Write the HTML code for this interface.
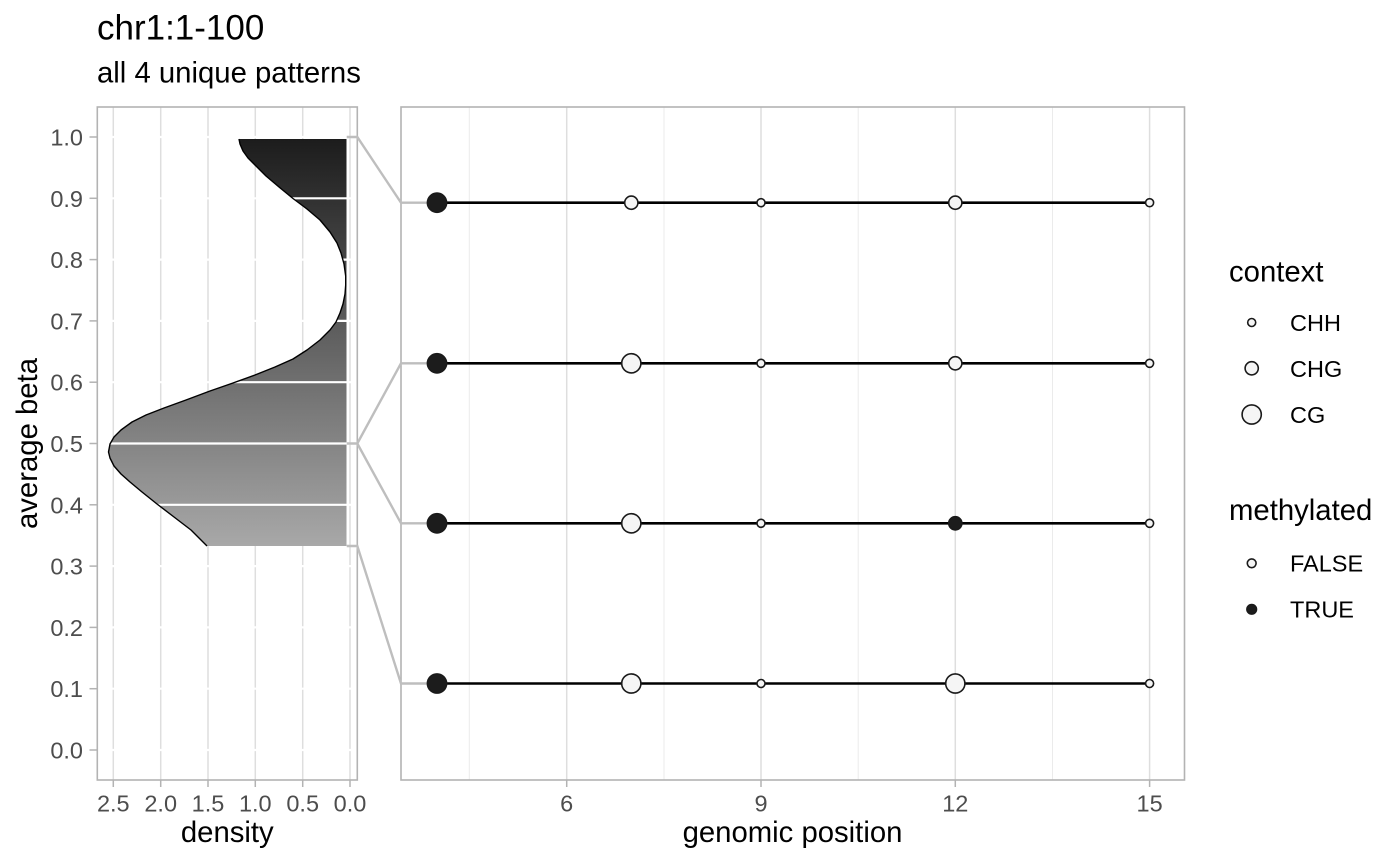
<!DOCTYPE html>
<html>
<head>
<meta charset="utf-8">
<style>
  html, body { margin: 0; padding: 0; background: #ffffff; }
  svg { display: block; }
  text { font-family: "Liberation Sans", Arial, Helvetica, sans-serif; }
</style>
</head>
<body>
<svg width="1400" height="866" viewBox="0 0 1400 866" xmlns="http://www.w3.org/2000/svg">
  <defs>
    <linearGradient id="dg" gradientUnits="userSpaceOnUse" x1="0" y1="139" x2="0" y2="546">
      <stop offset="0" stop-color="#1c1c1c"/>
      <stop offset="1" stop-color="#a8a8a8"/>
    </linearGradient>
  </defs>
  <rect x="0" y="0" width="1400" height="866" fill="#ffffff"/>

  <!-- Title -->
  <text x="97" y="39.5" font-size="35" fill="#000">chr1:1-100</text>
  <text x="97" y="82.5" font-size="29.3" fill="#000">all 4 unique patterns</text>

  <!-- LEFT PANEL -->
  <g stroke="#dedede" stroke-width="1.5">
    <line x1="113.3" y1="107" x2="113.3" y2="780"/>
    <line x1="160.7" y1="107" x2="160.7" y2="780"/>
    <line x1="208" y1="107" x2="208" y2="780"/>
    <line x1="255.3" y1="107" x2="255.3" y2="780"/>
    <line x1="302.7" y1="107" x2="302.7" y2="780"/>
    <line x1="350" y1="107" x2="350" y2="780"/>
  </g>
  <!-- density fill -->
  <polygon fill="url(#dg)" points="346.5,139 239,139 240,144 243,151 248,158 256,166 266,176 279,187 293,198.5 307,209 320,220 330,232 337,243 341,253 344,264 345.7,276 345.7,285 345,294 343,304 340,313 336,322 330,330 320,340 307,350 293,359 275,367 255,375 233,383 210,391 186,400 164,408 146,415 132,422 121,430 114,437 110,444 108.5,452 110,458 114,466 121,474 130,482 142,492 157,504 174,517 191,530 207,546 346.5,546"/>
  <!-- white horizontal gridlines -->
  <g stroke="#ffffff" stroke-width="2.2">
    <line x1="98" y1="137" x2="356.5" y2="137"/>
    <line x1="98" y1="198.3" x2="356.5" y2="198.3"/>
    <line x1="98" y1="259.6" x2="356.5" y2="259.6"/>
    <line x1="98" y1="320.9" x2="356.5" y2="320.9"/>
    <line x1="98" y1="382.2" x2="356.5" y2="382.2"/>
    <line x1="98" y1="443.5" x2="356.5" y2="443.5"/>
    <line x1="98" y1="504.8" x2="356.5" y2="504.8"/>
    <line x1="98" y1="566.1" x2="356.5" y2="566.1"/>
    <line x1="98" y1="627.4" x2="356.5" y2="627.4"/>
    <line x1="98" y1="688.7" x2="356.5" y2="688.7"/>
    <line x1="98" y1="750" x2="356.5" y2="750"/>
  </g>
  <line x1="347.8" y1="139" x2="347.8" y2="546" stroke="#ffffff" stroke-width="2.2"/>
  <!-- density curve -->
  <polyline fill="none" stroke="#000" stroke-width="1.4" stroke-linejoin="round" points="239,139 240,144 243,151 248,158 256,166 266,176 279,187 293,198.5 307,209 320,220 330,232 337,243 341,253 344,264 345.7,276 345.7,285 345,294 343,304 340,313 336,322 330,330 320,340 307,350 293,359 275,367 255,375 233,383 210,391 186,400 164,408 146,415 132,422 121,430 114,437 110,444 108.5,452 110,458 114,466 121,474 130,482 142,492 157,504 174,517 191,530 207,546"/>
  <rect x="97.3" y="107" width="260" height="673" fill="none" stroke="#b3b3b3" stroke-width="1.6"/>

  <!-- left y ticks -->
  <g stroke="#b3b3b3" stroke-width="1.5">
    <line x1="89.5" y1="137" x2="97" y2="137"/>
    <line x1="89.5" y1="198.3" x2="97" y2="198.3"/>
    <line x1="89.5" y1="259.6" x2="97" y2="259.6"/>
    <line x1="89.5" y1="320.9" x2="97" y2="320.9"/>
    <line x1="89.5" y1="382.2" x2="97" y2="382.2"/>
    <line x1="89.5" y1="443.5" x2="97" y2="443.5"/>
    <line x1="89.5" y1="504.8" x2="97" y2="504.8"/>
    <line x1="89.5" y1="566.1" x2="97" y2="566.1"/>
    <line x1="89.5" y1="627.4" x2="97" y2="627.4"/>
    <line x1="89.5" y1="688.7" x2="97" y2="688.7"/>
    <line x1="89.5" y1="750" x2="97" y2="750"/>
    <!-- bottom ticks left panel -->
    <line x1="113.3" y1="780" x2="113.3" y2="787"/>
    <line x1="160.7" y1="780" x2="160.7" y2="787"/>
    <line x1="208" y1="780" x2="208" y2="787"/>
    <line x1="255.3" y1="780" x2="255.3" y2="787"/>
    <line x1="302.7" y1="780" x2="302.7" y2="787"/>
    <line x1="350" y1="780" x2="350" y2="787"/>
    <!-- bottom ticks right panel -->
    <line x1="566.7" y1="780" x2="566.7" y2="787"/>
    <line x1="761" y1="780" x2="761" y2="787"/>
    <line x1="955.3" y1="780" x2="955.3" y2="787"/>
    <line x1="1149.6" y1="780" x2="1149.6" y2="787"/>
  </g>
  <g font-size="23.5" fill="#4d4d4d" text-anchor="end">
    <text x="83" y="145.5">1.0</text>
    <text x="83" y="206.8">0.9</text>
    <text x="83" y="268.1">0.8</text>
    <text x="83" y="329.4">0.7</text>
    <text x="83" y="390.7">0.6</text>
    <text x="83" y="452">0.5</text>
    <text x="83" y="513.3">0.4</text>
    <text x="83" y="574.6">0.3</text>
    <text x="83" y="635.9">0.2</text>
    <text x="83" y="697.2">0.1</text>
    <text x="83" y="758.5">0.0</text>
  </g>
  <g font-size="23.5" fill="#4d4d4d" text-anchor="middle">
    <text x="113.3" y="811.5">2.5</text>
    <text x="160.7" y="811.5">2.0</text>
    <text x="208" y="811.5">1.5</text>
    <text x="255.3" y="811.5">1.0</text>
    <text x="302.7" y="811.5">0.5</text>
    <text x="350" y="811.5">0.0</text>
    <text x="566.7" y="811.5">6</text>
    <text x="761" y="811.5">9</text>
    <text x="955.3" y="811.5">12</text>
    <text x="1149.6" y="811.5">15</text>
  </g>
  <text x="227.3" y="842" font-size="29.3" fill="#000" text-anchor="middle">density</text>
  <text x="792.5" y="842" font-size="29.3" fill="#000" text-anchor="middle">genomic position</text>
  <text transform="translate(37,443.5) rotate(-90)" font-size="29.3" fill="#000" text-anchor="middle">average beta</text>

  <!-- RIGHT PANEL -->
  <g stroke="#ebebeb" stroke-width="1">
    <line x1="469.3" y1="107" x2="469.3" y2="780"/>
    <line x1="664" y1="107" x2="664" y2="780"/>
    <line x1="858.2" y1="107" x2="858.2" y2="780"/>
    <line x1="1052.5" y1="107" x2="1052.5" y2="780"/>
  </g>
  <g stroke="#dedede" stroke-width="1.5">
    <line x1="566.7" y1="107" x2="566.7" y2="780"/>
    <line x1="761" y1="107" x2="761" y2="780"/>
    <line x1="955.3" y1="107" x2="955.3" y2="780"/>
    <line x1="1149.6" y1="107" x2="1149.6" y2="780"/>
  </g>
  <rect x="401" y="107" width="783.5" height="673" fill="none" stroke="#b3b3b3" stroke-width="1.6"/>

  <!-- connectors -->
  <g fill="none" stroke="#bebebe" stroke-width="2.4" stroke-linejoin="miter">
    <polyline points="346.7,137 357.3,137 401,202.7 437,202.7"/>
    <polyline points="346.7,443.5 357.3,443.5 401,363.3 437,363.3"/>
    <polyline points="357.3,443.5 401,523.3 437,523.3"/>
    <polyline points="346.7,546 357.3,546 401,683.5 437,683.5"/>
  </g>

  <!-- pattern lines -->
  <g stroke="#000" stroke-width="2.6">
    <line x1="437" y1="202.7" x2="1149.6" y2="202.7"/>
    <line x1="437" y1="363.3" x2="1149.6" y2="363.3"/>
    <line x1="437" y1="523.3" x2="1149.6" y2="523.3"/>
    <line x1="437" y1="683.5" x2="1149.6" y2="683.5"/>
  </g>

  <!-- points -->
  <g stroke="#1a1a1a" stroke-width="1.6">
    <!-- line 1 -->
    <circle cx="437" cy="202.7" r="9.6" fill="#1c1c1c"/>
    <circle cx="631.3" cy="202.7" r="6.6" fill="#f5f5f5"/>
    <circle cx="761" cy="202.7" r="4" fill="#f5f5f5"/>
    <circle cx="955.3" cy="202.7" r="6.6" fill="#f5f5f5"/>
    <circle cx="1149.6" cy="202.7" r="4" fill="#f5f5f5"/>
    <!-- line 2 -->
    <circle cx="437" cy="363.3" r="9.6" fill="#1c1c1c"/>
    <circle cx="631.3" cy="363.3" r="9.6" fill="#f5f5f5"/>
    <circle cx="761" cy="363.3" r="4" fill="#f5f5f5"/>
    <circle cx="955.3" cy="363.3" r="6.6" fill="#f5f5f5"/>
    <circle cx="1149.6" cy="363.3" r="4" fill="#f5f5f5"/>
    <!-- line 3 -->
    <circle cx="437" cy="523.3" r="9.6" fill="#1c1c1c"/>
    <circle cx="631.3" cy="523.3" r="9.6" fill="#f5f5f5"/>
    <circle cx="761" cy="523.3" r="4" fill="#f5f5f5"/>
    <circle cx="955.3" cy="523.3" r="6.6" fill="#1c1c1c"/>
    <circle cx="1149.6" cy="523.3" r="4" fill="#f5f5f5"/>
    <!-- line 4 -->
    <circle cx="437" cy="683.5" r="9.6" fill="#1c1c1c"/>
    <circle cx="631.3" cy="683.5" r="9.6" fill="#f5f5f5"/>
    <circle cx="761" cy="683.5" r="4" fill="#f5f5f5"/>
    <circle cx="955.3" cy="683.5" r="9.6" fill="#f5f5f5"/>
    <circle cx="1149.6" cy="683.5" r="4" fill="#f5f5f5"/>
  </g>

  <!-- LEGEND -->
  <text x="1229" y="281.5" font-size="29.3" fill="#000">context</text>
  <g stroke="#1a1a1a" stroke-width="1.6" fill="#f5f5f5">
    <circle cx="1251.7" cy="322.5" r="4"/>
    <circle cx="1251.7" cy="368.3" r="6.6"/>
    <circle cx="1251.7" cy="414.5" r="9.6"/>
  </g>
  <g font-size="23.5" fill="#000">
    <text x="1290" y="331">CHH</text>
    <text x="1290" y="376.8">CHG</text>
    <text x="1290" y="423">CG</text>
  </g>
  <text x="1229" y="520" font-size="29.3" fill="#000">methylated</text>
  <g stroke="#1a1a1a" stroke-width="1.6">
    <circle cx="1251.7" cy="563.3" r="4.4" fill="#f5f5f5"/>
    <circle cx="1251.7" cy="609.3" r="4.8" fill="#1c1c1c"/>
  </g>
  <g font-size="23.5" fill="#000">
    <text x="1290" y="571.5">FALSE</text>
    <text x="1290" y="617.5">TRUE</text>
  </g>
</svg>
</body>
</html>
